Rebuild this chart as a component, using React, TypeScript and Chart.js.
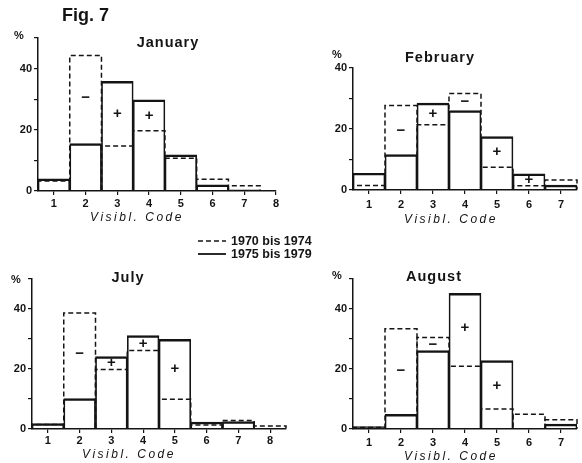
import { useEffect, useRef } from 'react';
import { Chart, registerables } from 'chart.js';

Chart.register(...registerables);

// ---------------- data ----------------
const seriesOldLabel = '1970 bis 1974';
const seriesNewLabel = '1975 bis 1979';
const xAxisTitle = 'Visibl. Code';
const yUnit = '%';
const yLabelTicks = [0, 20, 40];
const yTicks50 = [0, 10, 20, 30, 40, 50];
const yTicks40 = [0, 10, 20, 30, 40];

const janCodes = [1, 2, 3, 4, 5, 6, 7, 8];
const jan7074 = [3.3, 44.3, 14.7, 19.7, 10.7, 3.8, 1.7, null];
const jan7579 = [4.0, 15.5, 35.8, 29.8, 11.8, 2.0, 0.4, null];
const janSigns = ['', '−', '+', '+', '', '', '', ''];
const janSignY = [null, 30.5, 25.3, 24.5, null, null, null, null];

const febCodes = [1, 2, 3, 4, 5, 6, 7];
const feb7074 = [1.5, 27.7, 21.4, 31.6, 7.5, 1.4, 3.3];
const feb7579 = [5.5, 11.6, 28.5, 26.0, 17.5, 5.3, 1.6];
const febSigns = ['', '−', '+', '−', '+', '+', ''];
const febSignY = [null, 19.3, 25.0, 28.9, 12.5, 3.2, null];

const julCodes = [1, 2, 3, 4, 5, 6, 7, 8];
const jul7074 = [1.5, 38.7, 19.8, 26.2, 9.9, 1.3, 2.8, 1.0];
const jul7579 = [1.8, 10.1, 24.1, 31.1, 29.9, 2.3, 2.5, null];
const julSigns = ['', '−', '+', '+', '+', '', '', ''];
const julSignY = [null, 25.1, 22.1, 28.4, 20.2, null, null, null];

const augCodes = [1, 2, 3, 4, 5, 6, 7];
const aug7074 = [0.5, 33.4, 30.5, 20.9, 6.7, 4.9, 3.1];
const aug7579 = [0.8, 4.9, 26.1, 45.2, 22.8, null, 1.6];
const augSigns = ['', '−', '−', '+', '+', '', ''];
const augSignY = [null, 19.4, 28.0, 33.6, 14.5, null, null];

// ---------------- layout ----------------
type Panel = {
  title: string;
  codes: number[];
  old: (number | null)[];
  recent: (number | null)[];
  signs: string[];
  signY: (number | null)[];
  xMax: number;
  yMax: number;
  yTicks: number[];
  box: { x: number; y: number; w: number; h: number };
  area: { l: number; t: number; r: number; b: number };
  xLabelPad: number;
  titlePos: [number, number];
  pctPos: [number, number];
  xTitlePos: [number, number];
};

const panels: Panel[] = [
  {
    title: 'January', codes: janCodes, old: jan7074, recent: jan7579, signs: janSigns, signY: janSignY,
    xMax: 8, yMax: 50, yTicks: yTicks50,
    box: { x: 0, y: 0, w: 291, h: 231 }, area: { l: 38, t: 38, r: 276, b: 191 }, xLabelPad: 2,
    titlePos: [168, 43], pctPos: [19, 36], xTitlePos: [137, 218],
  },
  {
    title: 'February', codes: febCodes, old: feb7074, recent: feb7579, signs: febSigns, signY: febSignY,
    xMax: 7.5, yMax: 40, yTicks: yTicks40,
    box: { x: 291, y: 0, w: 291, h: 231 }, area: { l: 353, t: 68, r: 577, b: 190 }, xLabelPad: 4,
    titlePos: [440, 58], pctPos: [337, 55], xTitlePos: [451, 220],
  },
  {
    title: 'July', codes: julCodes, old: jul7074, recent: jul7579, signs: julSigns, signY: julSignY,
    xMax: 8.5, yMax: 50, yTicks: yTicks50,
    box: { x: 0, y: 231, w: 291, h: 232 }, area: { l: 32, t: 279, r: 286, b: 429 }, xLabelPad: 1,
    titlePos: [128, 278], pctPos: [16, 280], xTitlePos: [129, 455],
  },
  {
    title: 'August', codes: augCodes, old: aug7074, recent: aug7579, signs: augSigns, signY: augSignY,
    xMax: 7.5, yMax: 50, yTicks: yTicks50,
    box: { x: 291, y: 231, w: 291, h: 232 }, area: { l: 353, t: 279, r: 577, b: 429 }, xLabelPad: 3,
    titlePos: [434, 277], pctPos: [337, 276], xTitlePos: [451, 457],
  },
];

const INK = '#141414';
const FONT = '"Liberation Sans", Arial, sans-serif';
const Y_AXIS_W = 30;
const X_AXIS_H = 30;

function toPoints(codes: number[], vals: (number | null)[]) {
  return codes
    .map((c, i) => ({ x: c, y: vals[i] }))
    .filter((p) => p.y !== null && p.y !== undefined) as { x: number; y: number }[];
}

function PanelChart({ p }: { p: Panel }) {
  const ref = useRef<HTMLCanvasElement>(null);
  useEffect(() => {
    const canvas = ref.current;
    if (!canvas) return;

    const dashedBars = {
      id: 'dashedBars',
      afterDatasetsDraw(chart: any) {
        const meta = chart.getDatasetMeta(0);
        const ctx = chart.ctx;
        ctx.save();
        ctx.strokeStyle = INK;
        ctx.lineWidth = 1.5;
        ctx.setLineDash([5, 3]);
        meta.data.forEach((el: any) => {
          const { x, y, base, width } = el.getProps(['x', 'y', 'base', 'width'], true);
          if (!isFinite(y)) return;
          const l = x - width / 2;
          const r = x + width / 2;
          ctx.beginPath();
          ctx.moveTo(l, base);
          ctx.lineTo(l, y);
          ctx.lineTo(r, y);
          ctx.lineTo(r, base);
          ctx.stroke();
        });
        ctx.restore();
      },
    };

    const panelText = {
      id: 'panelText',
      afterDraw(chart: any) {
        const ctx = chart.ctx;
        const ox = p.box.x;
        const oy = p.box.y;
        const xs = chart.scales.x;
        const ys = chart.scales.y;
        ctx.save();
        ctx.fillStyle = INK;
        ctx.textBaseline = 'middle';
        ctx.textAlign = 'center';
        // title
        ctx.font = `bold 14.5px ${FONT}`;
        (ctx as any).letterSpacing = '1px';
        ctx.fillText(p.title, p.titlePos[0] - ox, p.titlePos[1] - oy);
        // unit
        (ctx as any).letterSpacing = '0px';
        ctx.font = `bold 11px ${FONT}`;
        ctx.fillText(yUnit, p.pctPos[0] - ox, p.pctPos[1] - oy);
        // x axis title
        ctx.font = `italic 12px ${FONT}`;
        (ctx as any).letterSpacing = '2.5px';
        ctx.fillText(xAxisTitle, p.xTitlePos[0] - ox, p.xTitlePos[1] - oy);
        (ctx as any).letterSpacing = '0px';
        // change signs
        ctx.font = `bold 15px ${FONT}`;
        p.signs.forEach((s, i) => {
          const v = p.signY[i];
          if (!s || v === null) return;
          ctx.fillText(s, xs.getPixelForValue(p.codes[i]), ys.getPixelForValue(v));
        });
        ctx.restore();
      },
    };

    const pad = {
      left: p.area.l - p.box.x - Y_AXIS_W,
      top: p.area.t - p.box.y,
      right: p.box.x + p.box.w - p.area.r,
      bottom: p.box.y + p.box.h - p.area.b - X_AXIS_H,
    };

    const chart = new Chart(canvas, {
      type: 'bar',
      data: {
        datasets: [
          {
            label: seriesOldLabel,
            data: toPoints(p.codes, p.old),
            backgroundColor: 'rgba(0,0,0,0)',
            borderWidth: 0,
            grouped: false,
            categoryPercentage: 1,
            barPercentage: 1,
          } as any,
          {
            label: seriesNewLabel,
            data: toPoints(p.codes, p.recent),
            backgroundColor: 'rgba(0,0,0,0)',
            borderColor: INK,
            borderWidth: { top: 1.8, left: 1, right: 1, bottom: 0 },
            borderSkipped: 'start',
            grouped: false,
            categoryPercentage: 1,
            barPercentage: 1,
          } as any,
        ],
      },
      options: {
        responsive: false,
        animation: false,
        devicePixelRatio: 1,
        layout: { padding: pad },
        plugins: {
          legend: { display: false },
          tooltip: { enabled: false },
          title: { display: false },
        },
        scales: {
          x: {
            type: 'linear',
            offset: false,
            min: 0.5,
            max: p.xMax,
            afterBuildTicks: (s: any) => {
              s.ticks = p.codes.map((v) => ({ value: v }));
            },
            afterFit: (s: any) => {
              s.height = X_AXIS_H;
            },
            ticks: {
              autoSkip: false,
              maxRotation: 0,
              padding: p.xLabelPad,
              color: INK,
              font: { family: FONT, size: 11, weight: 'bold' },
              callback: (v: any) => String(v),
            },
            grid: { offset: false, drawOnChartArea: false, drawTicks: true, tickLength: 4, color: INK, lineWidth: 1.2 },
            border: { display: true, color: INK, width: 1.5 },
          },
          y: {
            min: 0,
            max: p.yMax,
            afterBuildTicks: (s: any) => {
              s.ticks = p.yTicks.map((v) => ({ value: v }));
            },
            afterFit: (s: any) => {
              s.width = Y_AXIS_W;
            },
            ticks: {
              autoSkip: false,
              padding: 2,
              color: INK,
              font: { family: FONT, size: 11, weight: 'bold' },
              callback: (v: any) => (yLabelTicks.includes(Number(v)) ? String(v) : ''),
            },
            grid: { drawOnChartArea: false, drawTicks: true, tickLength: 4, color: INK, lineWidth: 1.2 },
            border: { display: true, color: INK, width: 1.5 },
          },
        },
      } as any,
      plugins: [dashedBars, panelText],
    });
    return () => chart.destroy();
  }, [p]);

  return (
    <canvas
      ref={ref}
      width={p.box.w}
      height={p.box.h}
      style={{ position: 'absolute', left: p.box.x, top: p.box.y, width: p.box.w, height: p.box.h, display: 'block' }}
    />
  );
}

export default function App() {
  const textStyle: any = {
    position: 'absolute',
    fontFamily: FONT,
    fontWeight: 'bold',
    color: INK,
    whiteSpace: 'nowrap',
    lineHeight: 1,
  };
  return (
    <div style={{ position: 'absolute', left: 0, top: 0, width: 582, height: 463, background: '#fff', overflow: 'hidden' }}>
      {panels.map((p) => (
        <PanelChart key={p.title} p={p} />
      ))}
      <div style={{ ...textStyle, left: 62, top: 6, fontSize: 18 }}>Fig. 7</div>
      <svg style={{ position: 'absolute', left: 196, top: 234, overflow: 'visible' }} width={32} height={26}>
        <line x1={2} y1={7} x2={30} y2={7} stroke={INK} strokeWidth={1.5} strokeDasharray="5,3" />
        <line x1={2} y1={20} x2={30} y2={20} stroke={INK} strokeWidth={1.8} />
      </svg>
      <div style={{ ...textStyle, left: 231, top: 235, fontSize: 12.5 }}>{seriesOldLabel}</div>
      <div style={{ ...textStyle, left: 231, top: 248, fontSize: 12.5 }}>{seriesNewLabel}</div>
    </div>
  );
}
